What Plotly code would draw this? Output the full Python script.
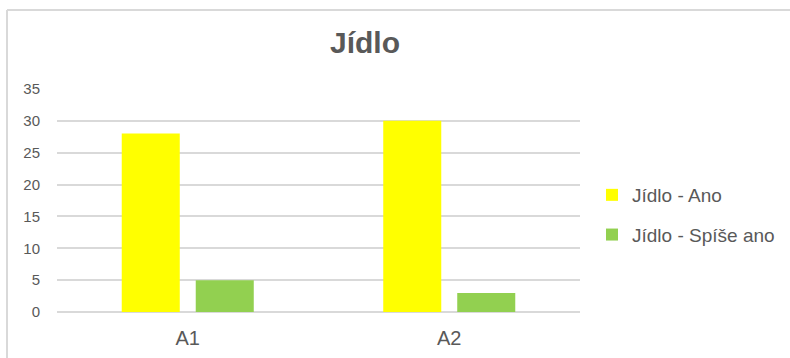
import plotly.graph_objects as go

categories = ["A1", "A2"]
series_names = ["Jídlo - Ano", "Jídlo - Spíše ano"]
values_ano = [28, 30]
values_spise = [5, 3]
colors = ["#FFFF00", "#92D050"]
y_ticks = [0, 5, 10, 15, 20, 25, 30, 35]

W, H = 790, 358
ML, MR, MT, MB = 57, 210, 89, 46
pw = W - ML - MR
ph = H - MT - MB

fig = go.Figure()
for i, (name, vals) in enumerate(zip(series_names, [values_ano, values_spise])):
    fig.add_trace(go.Bar(
        x=categories, y=vals, name=name,
        marker=dict(color=colors[i], line=dict(width=0)),
        legendgroup=f"g{i}",
    ))

def px_to_xpaper(px):
    return (px - ML) / pw

def px_to_ypaper(py):
    return (H - MB - py) / ph

border_color = "#d9d9d9"
fig.add_shape(type="line", xref="paper", yref="paper",
              x0=px_to_xpaper(7), x1=px_to_xpaper(W + 5),
              y0=px_to_ypaper(10), y1=px_to_ypaper(10),
              line=dict(color=border_color, width=2))
fig.add_shape(type="line", xref="paper", yref="paper",
              x0=px_to_xpaper(7), x1=px_to_xpaper(7),
              y0=px_to_ypaper(10), y1=px_to_ypaper(H + 5),
              line=dict(color=border_color, width=2))

fig.update_layout(
    width=W, height=H,
    margin=dict(l=ML, r=MR, t=MT, b=MB, autoexpand=False),
    paper_bgcolor="white", plot_bgcolor="white",
    font=dict(family="Liberation Sans, Arial, sans-serif", color="#595959"),
    title=dict(text="<b>Jídlo</b>", x=(365) / W, xanchor="center",
               y=1 - 42 / H, yanchor="middle",
               font=dict(size=30, color="#595959")),
    barmode="group", bargap=0.434, bargroupgap=0.216,
    showlegend=True,
    legend=dict(x=px_to_xpaper(592), xanchor="left",
                y=px_to_ypaper(215), yanchor="middle",
                font=dict(size=19, color="#595959"),
                tracegroupgap=12, itemwidth=30,
                bgcolor="rgba(0,0,0,0)"),
    xaxis=dict(showgrid=False, showline=False, ticks="", automargin=False,
               tickfont=dict(size=20, color="#595959"),
               ticklabelstandoff=12),
    yaxis=dict(range=[0, 35], tickvals=y_ticks, showgrid=True, automargin=False,
               gridcolor="#d9d9d9", gridwidth=1.5, zeroline=True,
               zerolinecolor="#d9d9d9", zerolinewidth=1.5,
               showline=False, ticks="",
               tickfont=dict(size=15, color="#595959"),
               ticklabelstandoff=16),
)

fig.write_html("out.html")
